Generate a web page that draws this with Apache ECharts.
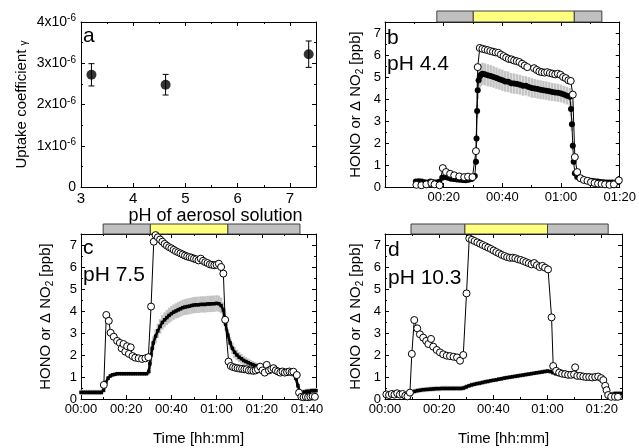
<!DOCTYPE html>
<html><head><meta charset="utf-8">
<script src="https://cdn.jsdelivr.net/npm/echarts@6/dist/echarts.min.js"></script>
<style>html,body{margin:0;padding:0;background:#fff}#c{width:639px;height:448px}</style>
</head><body><div id="c"></div>
<script>
// ---------- Panel a : uptake coefficient vs pH ----------
const a_ph    = [3.2, 4.62, 7.36];
const a_gamma = [2.72e-6, 2.48e-6, 3.22e-6];
const a_err   = [0.27e-6, 0.25e-6, 0.32e-6];

// ---------- light-phase bars (minutes): gray start, yellow start, yellow end, gray end ----------
const b_phases = [17.5, 29.8, 63.9, 73.2];
const c_phases = [9.8, 30.7, 65.0, 96.9];
const d_phases = [9.6, 29.5, 60.0, 82.4];

// ---------- Panel b (pH 4.4): HONO [t(min), ppb] ----------
const b_hono = [[10.7,0.1],[12.4,0.08],[14.1,0.12],[15.8,0.18],[16.9,0.12],[18.6,0.08],[19.7,0.86],[20.8,0.68],[22.2,0.6],[23.6,0.53],[25.3,0.48],[27,0.45],[28.3,0.47],[29.8,0.45],[31,1.63],[31.6,5.45],[32.3,6.32],[33.2,6.28],[34.1,6.25],[35,6.22],[35.9,6.18],[36.8,6.15],[37.7,6.12],[38.6,6.1],[39.5,6.02],[40.4,5.95],[41.3,5.88],[42.2,5.82],[43.1,5.8],[44,5.75],[44.9,5.72],[45.8,5.68],[46.7,5.6],[47.6,5.52],[48.5,5.45],[50.8,5.4],[51.7,5.32],[52.6,5.25],[53.5,5.22],[54.4,5.2],[55.3,5.22],[56.2,5.18],[57.1,5.15],[58,5.12],[58.9,5.15],[59.8,5.1],[60.7,5.0],[61.6,4.95],[62.5,4.85],[63.3,4.82],[64,4.2],[64.7,1.36],[65.5,0.68],[66.6,0.4],[67.8,0.32],[69,0.28],[70.2,0.22],[71.4,0.18],[72.6,0.15],[73.8,0.14],[75,0.12],[76.5,0.1],[78,0.12],[79.7,0.3]];
// ΔNO2 [t, ppb, error]
const b_no2 = [[10.5,0.25,0.08],[11.5,0.26,0.08],[12.5,0.25,0.08],[13.5,0.22,0.08],[14.5,0.2,0.08],[15.5,0.25,0.08],[16.5,0.22,0.08],[17.5,0.2,0.08],[18.5,0.24,0.08],[19.5,0.42,0.1],[20.5,0.45,0.1],[21.5,0.42,0.1],[22.5,0.38,0.1],[23.5,0.36,0.1],[24.5,0.34,0.1],[25.5,0.33,0.1],[26.5,0.32,0.1],[27.5,0.31,0.1],[28.5,0.33,0.1],[29.5,0.36,0.1],[30.6,0.5,0.12],[31.0,1.15,0.15],[31.2,2.2,0.2],[31.4,3.45,0.3],[31.6,4.4,0.4],[31.9,4.85,0.45],[32.3,5.02,0.5],[32.7,5.1,0.5],[33.2,5.15,0.5],[34,5.12,0.5],[35,5.08,0.5],[36,5.05,0.5],[37,5.0,0.49],[38,4.95,0.49],[39,4.9,0.48],[40,4.85,0.48],[41,4.8,0.47],[42,4.78,0.47],[43,4.72,0.46],[44,4.7,0.46],[45,4.68,0.45],[46,4.65,0.45],[47,4.6,0.45],[48,4.6,0.44],[49,4.55,0.44],[50,4.5,0.44],[51,4.48,0.43],[52,4.45,0.43],[53,4.42,0.43],[54,4.4,0.42],[55,4.38,0.42],[56,4.35,0.42],[57,4.32,0.41],[58,4.3,0.41],[59,4.28,0.41],[60,4.25,0.4],[61,4.2,0.4],[62,4.15,0.4],[63,4.1,0.4],[63.4,3.55,0.35],[63.7,2.85,0.3],[64,1.88,0.2],[64.3,1.15,0.15],[64.7,0.62,0.12],[65.5,0.45,0.1],[66.5,0.38,0.1],[67.5,0.34,0.1],[68.5,0.32,0.1],[69.5,0.3,0.1],[70.5,0.28,0.1],[71.5,0.26,0.1],[72.5,0.25,0.1],[73.5,0.23,0.1],[74.5,0.22,0.1],[75.5,0.21,0.1],[76.5,0.2,0.1],[77.5,0.2,0.1],[78.5,0.21,0.1],[79.5,0.23,0.1]];

// ---------- Panel c (pH 7.5) ----------
const c_hono = [[10.1,0.64],[11.2,3.82],[12.3,3.55],[13.1,3.01],[14.5,2.83],[16,2.64],[17.2,2.55],[18,2.3],[18.8,2.5],[19.6,2.15],[20.4,2.4],[21.2,2.05],[22,2.35],[22.8,1.95],[24,1.88],[25.5,1.85],[27,1.82],[28.5,1.85],[29.8,1.9],[31,4.2],[32.2,7.15],[33,7.45],[34,7.35],[35,7.25],[36,7.15],[37,7.05],[38,6.97],[39,6.9],[40,6.85],[41,6.78],[42,6.72],[43,6.67],[44,6.62],[45,6.57],[46,6.52],[47,6.48],[48,6.45],[49,6.42],[50,6.38],[51,6.35],[52,6.3],[53,6.38],[54,6.28],[55,6.22],[56,6.18],[57,6.12],[58,6.1],[59,6.08],[60,6.1],[61,6.15],[62,6.0],[63,5.7],[63.8,3.6],[65.3,1.7],[66.3,1.5],[67.3,1.45],[68.3,1.42],[69.3,1.4],[70.3,1.38],[71.3,1.37],[72.3,1.35],[73.3,1.35],[74.3,1.3],[75.3,1.3],[76.3,1.28],[77.3,1.3],[78.3,1.35],[79.3,1.47],[80.3,1.3],[81.3,1.2],[82.2,1.55],[83.2,1.3],[84.2,1.35],[85.2,1.4],[86.2,1.3],[87.2,1.25],[88.2,1.2],[89.2,1.25],[90.2,1.2],[91.2,1.22],[92.2,1.25],[93.2,1.22],[94,1.24],[95.5,1.09],[96.5,0.29],[97.5,0.1],[98.5,0.08],[99.5,0.1],[100.5,0.08],[101.5,0.1],[102.5,0.12],[103.5,0.1]];
const c_no2 = [[0,0.3,0.12],[1,0.3,0.12],[2,0.3,0.12],[3,0.3,0.12],[4,0.3,0.12],[5,0.3,0.12],[6,0.3,0.12],[7,0.3,0.12],[8,0.3,0.12],[9,0.3,0.12],[10,0.4,0.12],[11,0.75,0.12],[12,0.95,0.1],[13,1.05,0.1],[14,1.1,0.08],[15,1.12,0.08],[16,1.15,0.08],[17,1.15,0.08],[18,1.15,0.08],[19,1.15,0.08],[20,1.15,0.08],[21,1.15,0.08],[22,1.15,0.08],[23,1.15,0.08],[24,1.15,0.08],[25,1.15,0.08],[26,1.15,0.08],[27,1.15,0.08],[28,1.15,0.08],[29,1.15,0.08],[30,1.25,0.15],[30.5,1.6,0.25],[31,2.0,0.3],[31.5,2.3,0.3],[32,2.55,0.3],[33,2.85,0.32],[34,3.1,0.32],[35,3.3,0.33],[36,3.48,0.33],[37,3.6,0.34],[38,3.7,0.34],[39,3.8,0.35],[40,3.88,0.35],[41,3.95,0.35],[42,4.0,0.35],[43,4.05,0.36],[44,4.1,0.36],[45,4.15,0.36],[46,4.18,0.36],[47,4.2,0.37],[48,4.22,0.37],[49,4.25,0.37],[50,4.27,0.37],[51,4.28,0.37],[52,4.28,0.37],[53,4.3,0.37],[54,4.3,0.37],[55,4.3,0.37],[56,4.32,0.37],[57,4.32,0.37],[58,4.33,0.37],[59,4.33,0.37],[60,4.35,0.37],[61,4.33,0.37],[62,4.25,0.36],[63,4.05,0.35],[63.5,3.7,0.33],[64,3.4,0.3],[65,2.9,0.28],[66,2.55,0.27],[67,2.3,0.26],[68,2.12,0.25],[69,2.0,0.24],[70,1.9,0.23],[71,1.83,0.22],[72,1.75,0.21],[73,1.7,0.2],[74,1.65,0.19],[75,1.6,0.18],[76,1.56,0.17],[77,1.52,0.16],[78,1.48,0.15],[79,1.45,0.15],[80,1.42,0.14],[81,1.4,0.14],[82,1.38,0.13],[83,1.35,0.13],[84,1.33,0.12],[85,1.3,0.12],[86,1.28,0.12],[87,1.27,0.12],[88,1.25,0.12],[89,1.24,0.12],[90,1.23,0.12],[91,1.22,0.12],[92,1.2,0.12],[93,1.18,0.12],[94,1.12,0.12],[95,0.95,0.12],[96,0.6,0.12],[97,0.3,0.12],[98,0.3,0.12],[99,0.32,0.12],[100,0.35,0.12],[101,0.35,0.12],[102,0.38,0.12],[103,0.38,0.12],[104,0.38,0.12]];

// ---------- Panel d (pH 10.3) ----------
const d_hono = [[0.5,0.21],[1.5,0.18],[2.5,0.23],[3.5,0.2],[4.5,0.26],[5.5,0.2],[6.5,0.23],[7.5,0.15],[8.3,0.12],[9.2,0.29],[9.9,2.05],[10.8,3.59],[11.9,3.21],[12.9,2.94],[14.1,2.79],[15.2,2.64],[16,2.5],[17,2.73],[17.8,2.38],[19.1,2.23],[20.3,2.12],[21.5,2.03],[22.8,1.97],[24,1.95],[25.3,1.92],[26.6,1.89],[27.7,1.74],[28.9,2.0],[30.1,4.8],[31.1,7.3],[32.1,7.24],[33.1,7.18],[34.1,7.12],[35.1,7.06],[36.1,7.0],[37.1,6.94],[38.1,6.88],[39.1,6.82],[40.1,6.75],[41.1,6.68],[42.1,6.62],[43.1,6.55],[44.1,6.5],[45.1,6.45],[46.1,6.42],[47.1,6.42],[48.1,6.4],[49.1,6.35],[50.1,6.32],[51.1,6.27],[52.1,6.22],[53.1,6.17],[54.1,6.12],[55.1,6.18],[56.1,6.08],[57.1,6.0],[58.1,6.05],[59.1,5.97],[60.2,5.89],[61.5,3.71],[62.1,1.5],[63.2,1.28],[64.3,1.2],[65.4,1.15],[66.5,1.13],[67.6,1.1],[68.7,1.1],[69.8,1.12],[70.2,1.44],[71,1.05],[72.1,1.05],[73.2,1.02],[74.3,1.0],[75.4,1.0],[76.5,0.98],[77.6,1.0],[78.7,1.02],[79.8,0.95],[80.6,0.86],[81.3,0.6],[81.8,0.4],[82.4,0.18],[83.5,0.1],[84.9,0.1],[86,0.1]];
const d_no2 = [[0,0.2,0.12],[1,0.2,0.12],[2,0.2,0.12],[3,0.2,0.12],[4,0.2,0.12],[5,0.2,0.12],[6,0.2,0.12],[7,0.2,0.12],[8,0.2,0.12],[9,0.2,0.12],[10,0.3,0.12],[11,0.35,0.12],[12,0.38,0.12],[13,0.4,0.12],[14,0.42,0.12],[15,0.43,0.12],[16,0.44,0.12],[17,0.45,0.12],[18,0.46,0.12],[19,0.47,0.12],[20,0.47,0.12],[21,0.48,0.12],[22,0.48,0.12],[23,0.48,0.12],[24,0.48,0.12],[25,0.48,0.12],[26,0.48,0.12],[27,0.48,0.12],[28,0.48,0.12],[29,0.5,0.12],[30,0.55,0.12],[31,0.6,0.11],[32,0.64,0.11],[33,0.67,0.11],[34,0.7,0.11],[35,0.72,0.11],[36,0.75,0.11],[37,0.78,0.11],[38,0.8,0.11],[39,0.83,0.1],[40,0.85,0.1],[41,0.87,0.1],[42,0.9,0.1],[43,0.92,0.1],[44,0.95,0.1],[45,0.97,0.1],[46,0.99,0.1],[47,1.01,0.1],[48,1.03,0.1],[49,1.05,0.1],[50,1.07,0.1],[51,1.09,0.1],[52,1.11,0.1],[53,1.13,0.1],[54,1.15,0.1],[55,1.17,0.1],[56,1.19,0.1],[57,1.21,0.1],[58,1.23,0.1],[59,1.25,0.1],[60,1.27,0.1],[61,1.25,0.1],[62,1.2,0.1],[63,1.15,0.1],[64,1.12,0.1],[65,1.1,0.1],[66,1.08,0.1],[67,1.07,0.1],[68,1.06,0.1],[69,1.05,0.1],[70,1.04,0.1],[71,1.03,0.1],[72,1.02,0.1],[73,1.01,0.1],[74,1.0,0.1],[75,0.99,0.1],[76,0.98,0.1],[77,0.97,0.1],[78,0.96,0.1],[79,0.96,0.1],[80,0.95,0.1],[81,0.6,0.12],[82,0.3,0.12],[83,0.2,0.12],[84,0.22,0.12],[85,0.25,0.12],[86,0.25,0.12],[87,0.25,0.12]];

// ---------- tick / label text ----------
const TIME_NAME = 'Time [hh:mm]';
const PH_NAME = 'pH of aerosol solution';
const GAMMA_NAME = '{n|Uptake coefficient }{g|γ}';
const HONO_NAME = '{n|HONO or Δ NO}{s|2}{n| [ppb]}';
const PANEL_TEXT = [['a',''],['b','pH 4.4'],['c','pH 7.5'],['d','pH 10.3']];

const FONT = '"Liberation Sans", Arial, sans-serif';
const pad = n => (n < 10 ? '0' : '') + n;
const hhmm = v => { const m = Math.round(v); return pad(Math.floor(m / 60)) + ':' + pad(m % 60); };

const G = [
  {left:81, top:22, width:235, height:165},
  {left:385, top:22, width:237, height:165},
  {left:81, top:234, width:235, height:165},
  {left:385, top:234, width:237, height:165},
  {left:385, top:11, width:237, height:11},
  {left:81, top:224, width:235, height:10},
  {left:385, top:224, width:237, height:10}
];

function ax(opt, showLabel) {
  return Object.assign({
    type:'value', splitLine:{show:false},
    axisLine:{show:true, onZero:false, lineStyle:{color:'#000', width:1}},
    axisTick:{show:true, inside:true, length:4, lineStyle:{color:'#000'}},
    minorTick:{show:true, splitNumber:2, length:2, lineStyle:{color:'#000'}},
    axisLabel:{show:showLabel, color:'#000', fontFamily:FONT, fontSize:13, margin:4}
  }, opt);
}
const xAxis = [], yAxis = [];
function addPanelAxes(g, xo, yo, xLab, yLab) {
  const xl = Object.assign({show:true, color:'#000', fontFamily:FONT, fontSize:13, margin:4}, xLab);
  const yl = Object.assign({show:true, color:'#000', fontFamily:FONT, fontSize:13, margin:4}, yLab);
  xAxis.push(ax(Object.assign({gridIndex:g, position:'bottom', axisLabel:xl}, xo), true));
  xAxis.push(ax({gridIndex:g, position:'top', min:xo.min, max:xo.max, interval:xo.interval}, false));
  yAxis.push(ax(Object.assign({gridIndex:g, position:'left', axisLabel:yl}, yo), true));
  yAxis.push(ax({gridIndex:g, position:'right', min:yo.min, max:yo.max, interval:yo.interval}, false));
}
const honoY = {min:0, max:7.5, interval:1, name:HONO_NAME, nameLocation:'middle', nameGap:20,
  nameTextStyle:{rich:{n:{fontFamily:FONT, fontSize:15, color:'#000'}, s:{fontFamily:FONT, fontSize:10, color:'#000', verticalAlign:'bottom', padding:[8,0,0,0]}}}};
const timeName = {name:TIME_NAME, nameLocation:'middle', nameGap:32, nameTextStyle:{fontFamily:FONT, fontSize:15, color:'#000'}};

// a
addPanelAxes(0,
  {min:3, max:7.5, interval:1, name:PH_NAME, nameLocation:'middle', nameGap:12,
   nameTextStyle:{fontFamily:FONT, fontSize:18, color:'#000', padding:[0,0,0,34]}},
  {min:0, max:4e-6, interval:1e-6, name:GAMMA_NAME, nameLocation:'middle', nameGap:52,
   nameTextStyle:{rich:{n:{fontFamily:FONT, fontSize:15, color:'#000'}, g:{fontFamily:FONT, fontSize:10, color:'#000', verticalAlign:'bottom'}}}},
  {fontSize:15, showMaxLabel:false},
  {margin:5, formatter: v => { const k = Math.round(v * 1e6); return k === 0 ? '{n|0}' : '{n|' + k + 'x10}{s|-6}'; },
   rich:{n:{fontFamily:FONT, fontSize:14, color:'#000'}, s:{fontFamily:FONT, fontSize:10, color:'#000', verticalAlign:'top', padding:[0,0,7,0]}}});
// b
addPanelAxes(1, {min:0, max:80, interval:20}, Object.assign({}, honoY),
  {formatter:hhmm, showMinLabel:false}, {showMaxLabel:false});
// c
addPanelAxes(2, Object.assign({min:0, max:104, interval:20}, timeName), Object.assign({}, honoY, {nameGap:26}),
  {formatter:hhmm, showMaxLabel:false}, {showMaxLabel:false});
// d
addPanelAxes(3, Object.assign({min:0, max:87.5, interval:20}, timeName), Object.assign({}, honoY),
  {formatter:hhmm, showMaxLabel:false}, {showMaxLabel:false});
// bar grids
[[4,80],[5,104],[6,87.5]].forEach(([g,mx]) => {
  xAxis.push({type:'value', gridIndex:g, min:0, max:mx, show:false});
  yAxis.push({type:'value', gridIndex:g, min:0, max:1, show:false});
});

function errBand(data, xi) {
  return {type:'custom', xAxisIndex:xi, yAxisIndex:xi, z:1, silent:true, encode:{x:0, y:1},
    data:data,
    renderItem:(p, api) => {
      const t = api.value(0), v = api.value(1), e = api.value(2);
      const hi = api.coord([t, Math.min(v + e, 7.5)]), lo = api.coord([t, Math.max(v - e, 0)]);
      return {type:'rect', shape:{x:hi[0] - 1.25, y:hi[1], width:2.5, height:lo[1] - hi[1]}, style:{fill:'#c4c4c4'}};
    }};
}
function no2Line(data, xi, big) {
  return {type:'line', xAxisIndex:xi, yAxisIndex:xi, z:2, data:data.map(d => [d[0], d[1]]),
    showAllSymbol:true, symbol: big ? 'circle' : 'rect', symbolSize: big ? 6 : 3.5,
    itemStyle:{color:'#000'}, lineStyle:{color:'#000', width: big ? 1 : 2.5}};
}
function honoLine(data, xi) {
  return {type:'line', xAxisIndex:xi, yAxisIndex:xi, z:3, data:data, showAllSymbol:true,
    symbol:'circle', symbolSize:7, itemStyle:{color:'#fff', borderColor:'#000', borderWidth:1},
    lineStyle:{color:'#000', width:1}};
}
function phaseBar(ph, idx) {
  const segs = [[ph[0], ph[1], 0], [ph[1], ph[2], 1], [ph[2], ph[3], 0]];
  return {type:'custom', xAxisIndex:idx, yAxisIndex:idx, silent:true, data:segs, encode:{x:[0,1]},
    renderItem:(p, api) => {
      const s = api.coord([api.value(0), 1]), e = api.coord([api.value(1), 0]);
      return {type:'rect', shape:{x:s[0], y:s[1], width:e[0] - s[0], height:e[1] - s[1]},
        style:{fill: api.value(2) === 1 ? '#ffff80' : '#c0c0c0', stroke:'#404040', lineWidth:1}};
    }};
}

const aData = a_ph.map((x, i) => [x, a_gamma[i], a_err[i]]);
const series = [
  {type:'custom', xAxisIndex:0, yAxisIndex:0, data:aData, encode:{x:0, y:1}, z:2,
    renderItem:(p, api) => {
      const x = api.value(0), y = api.value(1), e = api.value(2);
      const hi = api.coord([x, y + e]), lo = api.coord([x, y - e]);
      const st = {stroke:'#000', lineWidth:1};
      return {type:'group', children:[
        {type:'line', shape:{x1:hi[0], y1:hi[1], x2:lo[0], y2:lo[1]}, style:st},
        {type:'line', shape:{x1:hi[0] - 3, y1:hi[1], x2:hi[0] + 3, y2:hi[1]}, style:st},
        {type:'line', shape:{x1:lo[0] - 3, y1:lo[1], x2:lo[0] + 3, y2:lo[1]}, style:st}]};
    }},
  {type:'scatter', xAxisIndex:0, yAxisIndex:0, z:3, data:aData.map(d => [d[0], d[1]]), symbolSize:10, itemStyle:{color:'#000'}},
  errBand(b_no2, 2), no2Line(b_no2, 2, true), honoLine(b_hono, 2),
  errBand(c_no2, 4), no2Line(c_no2, 4, false), honoLine(c_hono, 4),
  errBand(d_no2, 6), no2Line(d_no2, 6, false), honoLine(d_hono, 6),
  phaseBar(b_phases, 8), phaseBar(c_phases, 9), phaseBar(d_phases, 10)
];

const labelPos = [[83, 47, 0, 0], [387, 49, 387, 74.5], [83, 259, 83, 286], [388, 261, 388, 289]];
const graphic = [];
PANEL_TEXT.forEach((pt, i) => {
  const lp = labelPos[i];
  graphic.push({type:'text', z:10, style:{text:pt[0], x:lp[0], y:lp[1], font:'21px ' + FONT, fill:'#000', verticalAlign:'bottom'}});
  if (pt[1]) graphic.push({type:'text', z:10, style:{text:pt[1], x:lp[2], y:lp[3], font:'21px ' + FONT, fill:'#000', verticalAlign:'bottom'}});
});

const chart = echarts.init(document.getElementById('c'), null, {renderer:'canvas'});
chart.setOption({animation:false, backgroundColor:'#fff', grid:G, xAxis:xAxis, yAxis:yAxis, series:series, graphic:graphic});
</script></body></html>
